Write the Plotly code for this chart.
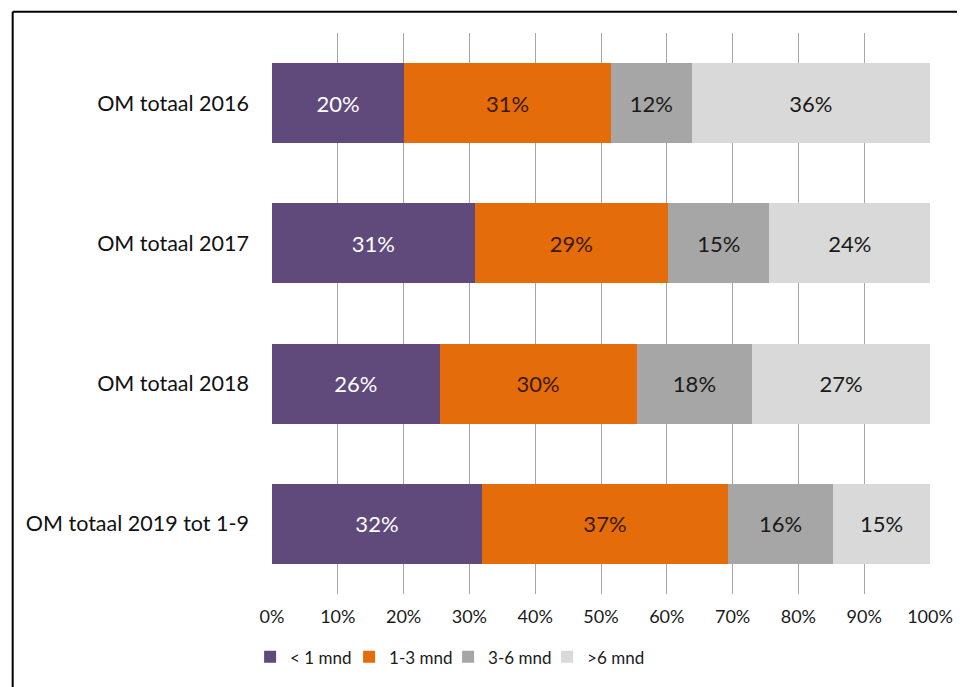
import plotly.graph_objects as go

categories = ["OM totaal 2016", "OM totaal 2017", "OM totaal 2018", "OM totaal 2019 tot 1-9"]
series_names = ["< 1 mnd", "1-3 mnd", "3-6 mnd", ">6 mnd"]
lt1 = [20.1, 30.8, 25.5, 31.9]
m1_3 = [31.4, 29.4, 29.9, 37.4]
m3_6 = [12.3, 15.4, 17.6, 16.0]
gt6 = [36.2, 24.4, 27.0, 14.7]
x_ticks = [0, 10, 20, 30, 40, 50, 60, 70, 80, 90, 100]
x_tick_labels = [f"{v}%" for v in x_ticks]

colors = ["#604A7B", "#E46C0A", "#A6A6A6", "#D9D9D9"]
text_colors = ["#FFFFFF", "#3A1A00", "#1A1A1A", "#1A1A1A"]
FONT = "Lato"

fig = go.Figure()
for name, vals, c, tc in zip(series_names, [lt1, m1_3, m3_6, gt6], colors, text_colors):
    fig.add_trace(go.Bar(
        y=categories, x=vals, name=name, orientation="h",
        marker=dict(color=c, line=dict(width=0)),
        texttemplate="%{x:.0f}%", textposition="inside",
        insidetextanchor="middle",
        textfont=dict(family=FONT, size=22, color=tc),
        hoverinfo="skip",
    ))

# page body has an 8px margin: figure is shifted by OFF in the screenshot
OFF = 8
W, H = 965 - OFF, 687 - OFF
L, R, T, B = 272 - OFF, 32, 33 - OFF, 95 - OFF
pw, ph = W - L - R, H - T - B

def px_x(sx):
    return (sx - OFF - L) / pw

def px_y(sy):
    return (H - B - (sy - OFF)) / ph

fig.update_layout(
    width=W, height=H,
    margin=dict(l=L, r=R, t=T, b=B),
    barmode="stack", bargap=0.43,
    paper_bgcolor="white", plot_bgcolor="white",
    font=dict(family=FONT, color="#1A1A1A"),
    showlegend=True,
    legend=dict(orientation="h", x=px_x(250), xanchor="left", y=px_y(664), yanchor="middle",
                font=dict(family=FONT, size=17, color="#1A1A1A"),
                traceorder="normal", itemwidth=30, entrywidth=54, entrywidthmode="pixels"),
    xaxis=dict(range=[0, 100], tickvals=x_ticks, ticktext=x_tick_labels,
               showgrid=True, gridcolor="#A6A6A6", gridwidth=1,
               zeroline=False, showline=False, ticks="",
               tickfont=dict(family=FONT, size=18, color="#1A1A1A"),
               ticklabelstandoff=10, fixedrange=True),
    yaxis=dict(categoryorder="array", categoryarray=categories, autorange="reversed",
               showgrid=False, zeroline=False, showline=False, ticks="",
               tickfont=dict(family=FONT, size=21.5, color="#111111"),
               ticklabelstandoff=22, fixedrange=True),
    shapes=[
        dict(type="line", xref="paper", yref="paper",
             x0=px_x(11.5), x1=px_x(1000), y0=px_y(11.5), y1=px_y(11.5),
             line=dict(color="black", width=2)),
        dict(type="line", xref="paper", yref="paper",
             x0=px_x(11.5), x1=px_x(11.5), y0=px_y(11.5), y1=px_y(800),
             line=dict(color="black", width=2)),
    ],
)

fig.write_html("out.html")
